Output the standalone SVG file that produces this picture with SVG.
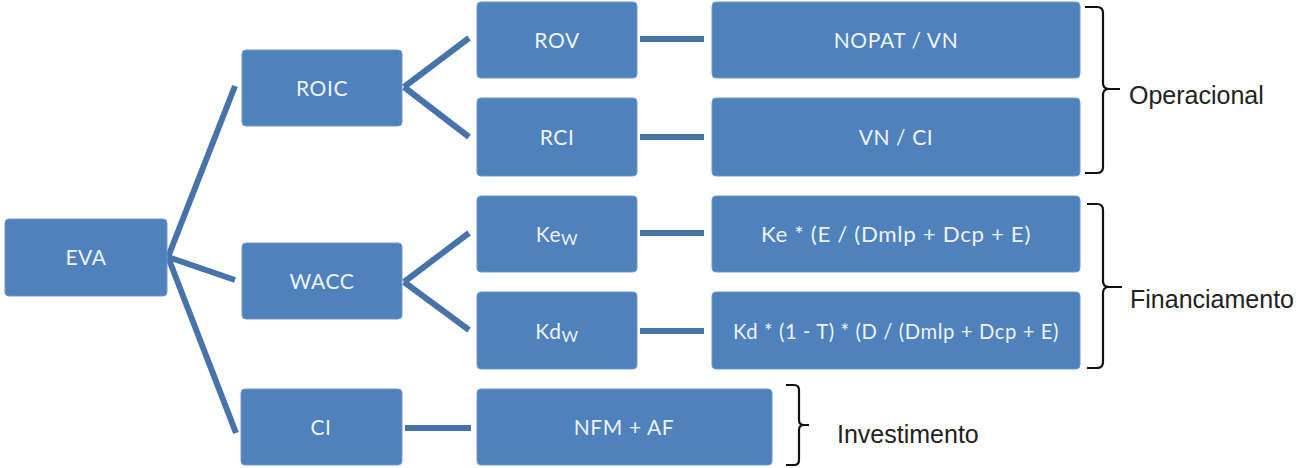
<svg xmlns="http://www.w3.org/2000/svg" width="1303" height="468" viewBox="0 0 1303 468">
<style>
.box{fill:#4F81BD;stroke:#6e97c9;stroke-width:1}
.t{font-family:Lato,"Open Sans",sans-serif;font-size:21px;fill:#eef3fa;text-anchor:middle;letter-spacing:0.6px}
.sub{font-size:16px}
.con{stroke:#4674aa;stroke-width:6;fill:none;stroke-linecap:butt}
.br{stroke:#111;stroke-width:2.2;fill:none}
.lbl{font-family:"Liberation Sans",Arial,sans-serif;font-size:25px;fill:#222}
</style>
<rect width="1303" height="468" fill="#fff"/>
<g id="connectors">
<line class="con" x1="168" y1="257" x2="235" y2="86"/>
<line class="con" x1="168" y1="257" x2="235" y2="280"/>
<line class="con" x1="168" y1="257" x2="236" y2="433"/>
<line class="con" x1="404" y1="87" x2="469" y2="38"/>
<line class="con" x1="404" y1="87" x2="469" y2="137"/>
<line class="con" x1="404" y1="282" x2="469" y2="233"/>
<line class="con" x1="404" y1="282" x2="469" y2="330"/>
<line class="con" x1="640" y1="39" x2="704" y2="39" stroke-width="7"/>
<line class="con" x1="640" y1="137" x2="704" y2="137" stroke-width="7"/>
<line class="con" x1="640" y1="233" x2="704" y2="233" stroke-width="7"/>
<line class="con" x1="640" y1="331" x2="704" y2="331" stroke-width="7"/>
<line class="con" x1="405" y1="428" x2="471" y2="428" stroke-width="7"/>
</g>
<g id="eva"><rect class="box" x="5" y="219" width="162" height="77" rx="4"/><text class="t" x="86" y="265">EVA</text></g>
<g id="roic"><rect class="box" x="242" y="50" width="160" height="76" rx="4"/><text class="t" x="322" y="96">ROIC</text></g>
<g id="wacc"><rect class="box" x="242" y="243" width="160" height="76" rx="4"/><text class="t" x="322" y="289">WACC</text></g>
<g id="ci"><rect class="box" x="241" y="389" width="161" height="76" rx="4"/><text class="t" x="321" y="435">CI</text></g>
<g id="rov"><rect class="box" x="477" y="2" width="160" height="76" rx="4"/><text class="t" x="557" y="48">ROV</text></g>
<g id="rci"><rect class="box" x="477" y="98" width="160" height="78" rx="4"/><text class="t" x="557" y="145">RCI</text></g>
<g id="kew"><rect class="box" x="477" y="196" width="160" height="76" rx="4"/><text class="t" x="557" y="242">Ke<tspan class="sub" dy="3">W</tspan></text></g>
<g id="kdw"><rect class="box" x="477" y="292" width="160" height="77" rx="4"/><text class="t" x="557" y="339">Kd<tspan class="sub" dy="3">W</tspan></text></g>
<g id="nfm"><rect class="box" x="477" y="389" width="295" height="76" rx="4"/><text class="t" x="624" y="435">NFM + AF</text></g>
<g id="nopat"><rect class="box" x="712" y="2" width="368" height="76" rx="4"/><text class="t" x="896" y="48">NOPAT / VN</text></g>
<g id="vnci"><rect class="box" x="712" y="98" width="368" height="78" rx="4"/><text class="t" x="896" y="145">VN / CI</text></g>
<g id="ke"><rect class="box" x="712" y="196" width="368" height="76" rx="4"/><text class="t" x="896" y="242" textLength="270" lengthAdjust="spacingAndGlyphs">Ke * (E / (Dmlp + Dcp + E)</text></g>
<g id="kd"><rect class="box" x="712" y="292" width="368" height="77" rx="4"/><text class="t" x="896" y="339" textLength="326" lengthAdjust="spacingAndGlyphs">Kd * (1 - T) * (D / (Dmlp + Dcp + E)</text></g>
<g id="operacional">
<path class="br" d="M1085,7 H1097 Q1103,7 1103,13 V83 Q1103,89 1109,89 H1120 M1109,89 Q1103,89 1103,95 V167 Q1103,173 1097,173 H1085"/>
<text class="lbl" x="1129" y="104">Operacional</text>
</g>
<g id="financiamento">
<path class="br" d="M1087,204 H1097 Q1103,204 1103,210 V281 Q1103,287 1109,287 H1122 M1109,287 Q1103,287 1103,293 V362 Q1103,368 1097,368 H1087"/>
<text class="lbl" x="1130" y="308">Financiamento</text>
</g>
<g id="investimento">
<path class="br" d="M786,385 H794 Q799,385 799,390 V420 Q799,425 804,425 H809 M804,425 Q799,425 799,430 V460 Q799,465 794,465 H786"/>
<text class="lbl" x="837" y="443">Investimento</text>
</g>
</svg>
